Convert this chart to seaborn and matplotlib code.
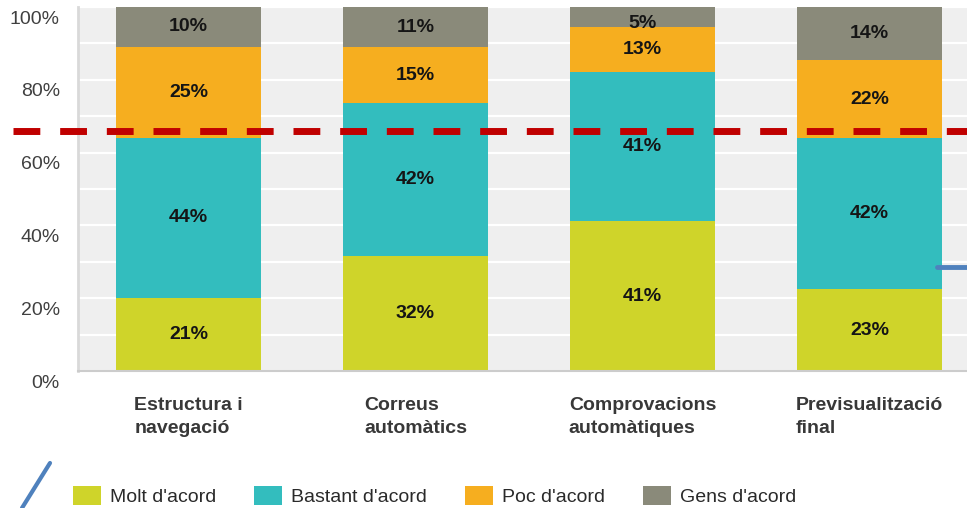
import matplotlib
matplotlib.use("Agg")
import matplotlib.pyplot as plt
import matplotlib.transforms as mtransforms
from matplotlib.lines import Line2D
from matplotlib.patches import Patch
import numpy as np
import seaborn as sns

sns.set_theme(style="white")
plt.rcParams.update({
    'font.family': ['Liberation Sans', 'DejaVu Sans'],
    'axes.facecolor': '#efefef',
})

# Categories (x axis) and answer levels (stack order, bottom to top)
categories = ["Estructura i\nnavegació", "Correus\nautomàtics",
              "Comprovacions\nautomàtiques", "Previsualització\nfinal"]
levels = ["Molt d'acord", "Bastant d'acord", "Poc d'acord", "Gens d'acord"]

# Segment heights as drawn (%)
molt = [20.1, 31.6, 41.1, 22.5]
bastant = [44.0, 42.0, 41.0, 41.5]
poc = [25.0, 15.4, 12.5, 21.4]
gens = [10.9, 11.0, 5.4, 14.6]

# Printed labels on the segments (%)
molt_lbl = [21, 32, 41, 23]
bastant_lbl = [44, 42, 41, 42]
poc_lbl = [25, 15, 13, 22]
gens_lbl = [10, 11, 5, 14]

yticks = [0, 20, 40, 60, 80, 100]
target = 66  # red dashed reference line

COLORS = ["#cfd42a", "#33bdbe", "#f6ae1f", "#8a8a7a"]

series = [molt, bastant, poc, gens]
labels = [molt_lbl, bastant_lbl, poc_lbl, gens_lbl]

fig = plt.figure(figsize=(9.67, 5.08), dpi=100)
ax = fig.add_axes([78 / 967, 137 / 508, 889 / 967, 364 / 508])

# Stacked bars: draw cumulative totals from the top segment down
cum = np.cumsum(np.array(series), axis=0)
for i in reversed(range(len(series))):
    sns.barplot(x=categories, y=cum[i], color=COLORS[i], saturation=1,
                width=0.64, errorbar=None, ax=ax, zorder=2,
                edgecolor='none', linewidth=0)

# Segment labels (a thin top segment gets its label pushed down a little)
for i, (vals, lbls) in enumerate(zip(series, labels)):
    for j, (v, lb) in enumerate(zip(vals, lbls)):
        top = cum[i][j]
        ypos = min(top - v / 2, top - 4.5)
        ax.text(j, ypos, f"{lb}%", ha='center', va='center',
                fontsize=14, fontweight='bold', color='#151515', zorder=4)

ax.set_xlim(-0.487, 3.43)
ax.set_ylim(0, 100)
ax.set_yticks(yticks)
ax.set_yticklabels([f"{v}%" for v in yticks])
ax.set_yticks(range(0, 101, 10), minor=True)
ax.grid(axis='y', which='both', color='white', linewidth=1.6, zorder=1)
ax.set_axisbelow(True)
ax.tick_params(axis='y', which='both', length=0, pad=13, labelsize=14,
               labelcolor='#404040')
ax.tick_params(axis='x', length=0, pad=19, labelsize=14, labelcolor='#383838')
for lab in ax.get_xticklabels():
    lab.set_fontweight('bold')
    lab.set_multialignment('left')
    lab.set_linespacing(1.4)

# y labels sit a bit lower than their gridlines
offset = mtransforms.ScaledTranslation(0, -0.1, fig.dpi_scale_trans)
for lab in ax.get_yticklabels():
    lab.set_transform(lab.get_transform() + offset)

for side in ['top', 'right']:
    ax.spines[side].set_visible(False)
ax.spines['left'].set_color('#d9d9d9')
ax.spines['left'].set_linewidth(2)
ax.spines['bottom'].set_color('#cccccc')
ax.spines['bottom'].set_linewidth(1.5)
ax.set_xlabel("")
ax.set_ylabel("")

# Red dashed target line, reaching past the left spine
ax.plot([-0.073, 1], [target, target], transform=ax.get_yaxis_transform(),
        clip_on=False, color='#c00000', linewidth=5, dashes=(3.86, 2.86),
        solid_capstyle='butt', zorder=5)

# Legend along the bottom
handles = [Patch(facecolor=c, edgecolor='none') for c in COLORS]
fig.legend(handles, levels, loc='upper left',
           bbox_to_anchor=(73 / 967, 1 - 486 / 508), ncol=4, frameon=False,
           fontsize=14, handlelength=1.45, handleheight=1.1,
           handletextpad=0.45, columnspacing=1.95, borderpad=0,
           borderaxespad=0, labelcolor='#2a2a2a')

# Stray blue connector strokes at the edges
fig.add_artist(Line2D([22 / 967, 50 / 967], [0, 1 - 463 / 508],
                      transform=fig.transFigure, color='#4f81bd', linewidth=3))
fig.add_artist(Line2D([937 / 967, 1], [1 - 266.5 / 508, 1 - 266.5 / 508],
                      transform=fig.transFigure, color='#4f81bd', linewidth=3.5))

fig.savefig("out.png", dpi=100)
plt.close(fig)
